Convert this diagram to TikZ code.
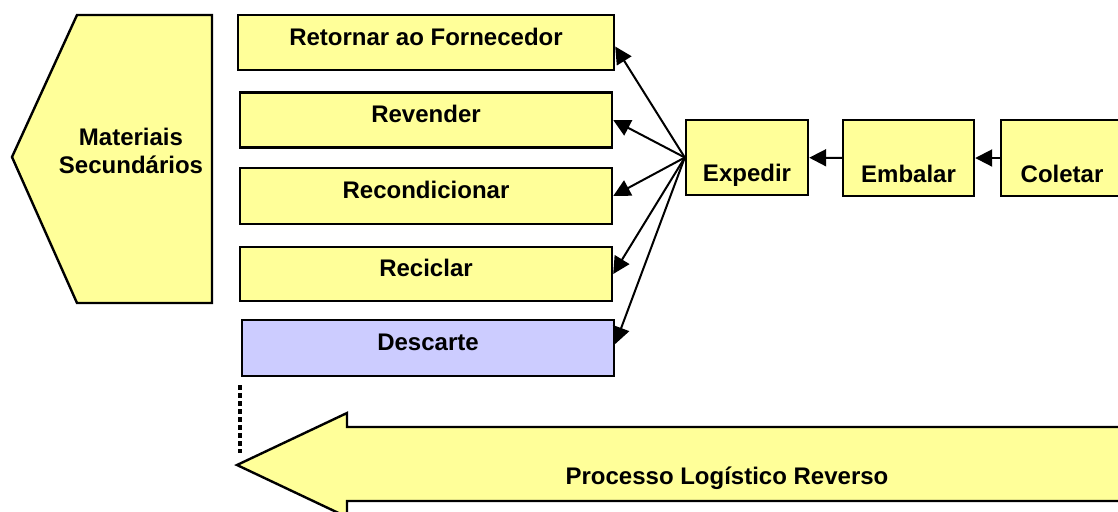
\documentclass[tikz,border=0pt]{standalone}
\usepackage{fontspec}
\setmainfont{Liberation Sans}
\usetikzlibrary{arrows.meta}
\definecolor{paleyellow}{RGB}{255,255,153}
\definecolor{descblue}{RGB}{204,204,255}

\begin{document}
\begin{tikzpicture}[x=0.5pt,y=-0.5pt]
\tikzstyle{every node}+=[font=\fontsize{12}{14}\selectfont\bfseries]
\tikzstyle{box}=[draw=black, line width=1.2pt, fill=paleyellow, rectangle, inner sep=0pt, text height=6pt, text depth=3.5pt]
\tikzstyle{lowbox}=[box, text height=24pt, text depth=0pt]
\tikzstyle{link}=[black, line width=1pt, -{Triangle[length=8.5pt,width=8.5pt]}]
\clip (0,0) rectangle (1118,511);
% secondary materials
\draw [black, line width=1.2pt, fill=paleyellow] (77,15) -- (212,15) -- (212,303) -- (77,303) -- (12,157) -- cycle;
\node [align=center] (mat) at (131,151) {Materiais\\Secund\'arios};
% destinations
\node [box, minimum width=188pt, minimum height=27.5pt] (ret) at (426,42.5) {Retornar ao Fornecedor};
\node [box, minimum width=186pt, minimum height=27.5pt] (rev) at (426,120) {Revender};
\node [box, minimum width=186pt, minimum height=28pt] (rec) at (426,196) {Recondicionar};
\node [box, minimum width=186pt, minimum height=27pt] (rcl) at (426,274) {Reciclar};
\node [box, fill=descblue, minimum width=186pt, minimum height=28pt] (des) at (428,348) {Descarte};
% flow
\node [lowbox, minimum width=61pt, minimum height=37.5pt] (exp) at (747,157.5) {Expedir};
\node [lowbox, minimum width=65.5pt, minimum height=38pt] (emb) at (908.5,158) {Embalar};
\node [lowbox, minimum width=61pt, minimum height=38pt] (col) at (1062,158) {Coletar};
\draw [link] (col) -- (emb);
\draw [link] (emb) -- (exp);
\draw [link] (exp.west) -- ([yshift=-2pt]ret.east);
\draw [link] (exp.west) -- (rev.east);
\draw [link] (exp.west) -- (rec.east);
\draw [link] (exp.west) -- (rcl.east);
\draw [link] (exp.west) -- ([yshift=2pt]des.east);
% reverse process
\coordinate (tip) at (237,465);
\draw [black, line width=1.2pt, fill=paleyellow] (tip) -- (347,413) -- (347,427) -- (1130,427) -- (1130,501) -- (347,501) -- (347,517) -- cycle;
\node (proc) at (727,478) {Processo Log\'istico Reverso};
\draw [black, line width=2pt, dash pattern=on 2.5pt off 1.5pt, shorten <=4pt, shorten >=6pt] ([xshift=-0.5pt]des.south west) -- ([xshift=-0.5pt]des.south west |- tip);
\end{tikzpicture}
\end{document}
